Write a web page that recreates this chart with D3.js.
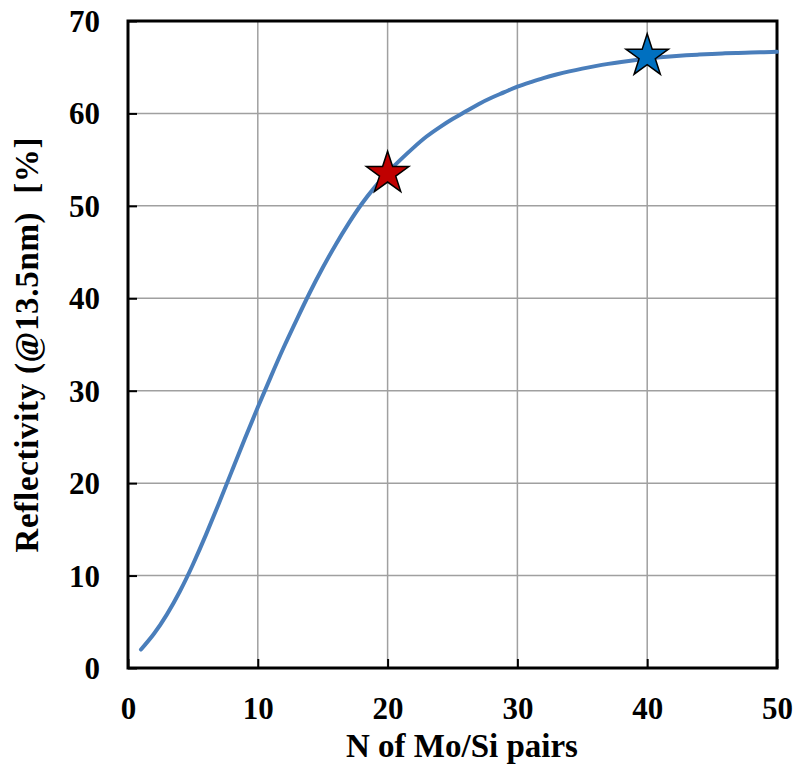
<!DOCTYPE html>
<html>
<head>
<meta charset="utf-8">
<script src="https://cdn.jsdelivr.net/npm/d3@7"></script>
<style>
  html, body { margin: 0; padding: 0; background: #fff; }
  text { font-family: "Liberation Serif", "Times New Roman", serif; font-weight: bold; fill: #000; }
</style>
</head>
<body>
<div id="viz"></div>
<script>
// reflectivity vs number of Mo/Si pairs
const pairs = d3.range(1, 51);
const reflectivity = [
  2.0, 3.7, 5.8, 8.3, 11.2, 14.4, 17.8, 21.3, 24.8, 28.2,
  31.5, 34.7, 37.7, 40.6, 43.3, 45.8, 48.1, 50.2, 52.0, 53.6,
  55.0, 56.3, 57.5, 58.5, 59.4, 60.2, 61.0, 61.7, 62.3, 62.9,
  63.38, 63.82, 64.21, 64.55, 64.85, 65.12, 65.36, 65.57, 65.76, 65.93,
  66.07, 66.19, 66.29, 66.37, 66.44, 66.5, 66.55, 66.59, 66.63, 66.66
];
const stars = [
  { n: 20, r: 53.5, color: "#c00000" },
  { n: 40, r: 66.2, color: "#0070c0" }
];
const xTicks = [0, 10, 20, 30, 40, 50];
const yTicks = [0, 10, 20, 30, 40, 50, 60, 70];

const width = 796, height = 767;
const m = { left: 128, right: 777, top: 21, bottom: 668 };

const svg = d3.select("#viz").append("svg")
    .attr("width", width)
    .attr("height", height);

const x = d3.scaleLinear().domain([0, 50]).range([m.left, m.right]);
const y = d3.scaleLinear().domain([0, 70]).range([m.bottom, m.top]);

// grid
svg.append("g")
    .selectAll("line")
    .data(xTicks.slice(1, -1))
    .enter().append("line")
    .attr("x1", d => x(d)).attr("x2", d => x(d))
    .attr("y1", m.top).attr("y2", m.bottom)
    .attr("stroke", "#a0a0a0").attr("stroke-width", 1.5);

svg.append("g")
    .selectAll("line")
    .data(yTicks.slice(1, -1))
    .enter().append("line")
    .attr("x1", m.left).attr("x2", m.right)
    .attr("y1", d => y(d)).attr("y2", d => y(d))
    .attr("stroke", "#a0a0a0").attr("stroke-width", 1.5);

// axes with inward ticks
const xAxis = svg.append("g")
    .attr("transform", `translate(0,${m.bottom})`)
    .call(d3.axisBottom(x).tickValues(xTicks).tickSize(-9).tickPadding(0).tickFormat(d3.format("d")));
xAxis.select(".domain").remove();
xAxis.selectAll("line").attr("stroke", "#000").attr("stroke-width", 2);
xAxis.selectAll("text").attr("font-size", 31).attr("dy", null).attr("y", 51);

const yAxis = svg.append("g")
    .attr("transform", `translate(${m.left},0)`)
    .call(d3.axisLeft(y).tickValues(yTicks).tickSize(-9).tickPadding(0).tickFormat(d3.format("d")));
yAxis.select(".domain").remove();
yAxis.selectAll("line").attr("stroke", "#000").attr("stroke-width", 2);
yAxis.selectAll("text").attr("font-size", 31).attr("x", -28).attr("dy", "0.34em");

// frame
svg.append("rect")
    .attr("x", m.left).attr("y", m.top)
    .attr("width", m.right - m.left).attr("height", m.bottom - m.top)
    .attr("fill", "none").attr("stroke", "#000").attr("stroke-width", 3);

// curve
const line = d3.line()
    .x((d, i) => x(pairs[i]))
    .y(d => y(d))
    .curve(d3.curveNatural);

svg.append("path")
    .datum(reflectivity)
    .attr("d", line)
    .attr("fill", "none")
    .attr("stroke", "#4a7ebb")
    .attr("stroke-width", 4)
    .attr("stroke-linecap", "round");

// stars
const star = d3.symbol().type(d3.symbolStar).size(560);
svg.append("g")
    .selectAll("path")
    .data(stars)
    .enter().append("path")
    .attr("d", star)
    .attr("transform", d => `translate(${x(d.n)},${y(d.r)})`)
    .attr("fill", d => d.color)
    .attr("stroke", "#000")
    .attr("stroke-width", 1.5);

// axis titles
svg.append("text")
    .attr("x", 462)
    .attr("y", 757)
    .attr("text-anchor", "middle")
    .attr("font-size", 33)
    .text("N of Mo/Si pairs");

svg.append("text")
    .attr("transform", `translate(38,345) rotate(-90)`)
    .attr("text-anchor", "middle")
    .attr("font-size", 33)
    .attr("textLength", 415)
    .attr("xml:space", "preserve")
    .text("Reflectivity (@13.5nm)  [%]");
</script>
</body>
</html>
